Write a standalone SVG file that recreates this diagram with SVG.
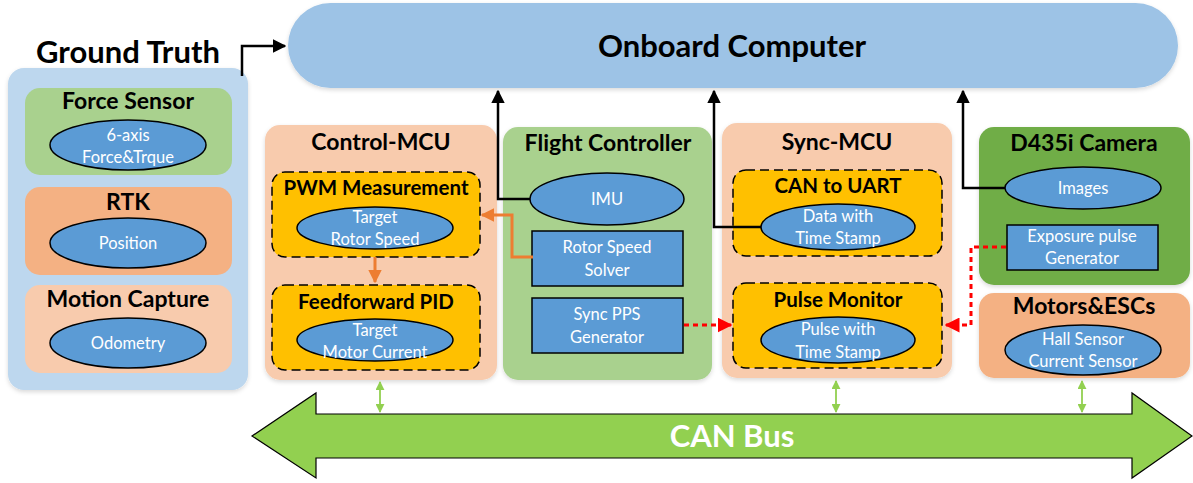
<svg xmlns="http://www.w3.org/2000/svg" width="1193" height="483" viewBox="0 0 1193 483">
<defs>
<style>
.t{font-family:Lato,"Open Sans","Liberation Sans",sans-serif;font-weight:bold;fill:#000;text-anchor:middle}
.h1{font-size:31px}
.h2{font-size:23px}
.h3{font-size:20.5px}
.e{font-family:Lato,"Open Sans","Liberation Sans",sans-serif;font-size:16.5px;fill:#fff;text-anchor:middle}
.ell{fill:#5B9BD5;stroke:#000;stroke-width:1.5}
.rb{fill:#5B9BD5;stroke:#000;stroke-width:1.5}
.dash{fill:#FFC000;stroke:#000;stroke-width:1.5;stroke-dasharray:9 5}
.blk{fill:none;stroke:#000;stroke-width:2.5}
.org{fill:none;stroke:#ED7D31;stroke-width:3}
.red{fill:none;stroke:#FF0000;stroke-width:3;stroke-dasharray:5 4}
.grn{fill:none;stroke:#92D050;stroke-width:1.8}
</style>
<marker id="ab" viewBox="0 0 10 10" refX="9" refY="5" markerWidth="5.5" markerHeight="5.5" orient="auto-start-reverse" markerUnits="strokeWidth"><path d="M0,0 L10,5 L0,10 z" fill="#000"/></marker>
<marker id="ao" viewBox="0 0 10 10" refX="9" refY="5" markerWidth="4.5" markerHeight="4.5" orient="auto" markerUnits="strokeWidth"><path d="M0,0 L10,5 L0,10 z" fill="#ED7D31"/></marker>
<marker id="ar" viewBox="0 0 10 10" refX="9" refY="5" markerWidth="5" markerHeight="5" orient="auto" markerUnits="strokeWidth"><path d="M0,0 L10,5 L0,10 z" fill="#FF0000"/></marker>
<marker id="ag" viewBox="0 0 10 10" refX="9" refY="5" markerWidth="5" markerHeight="5" orient="auto-start-reverse" markerUnits="strokeWidth"><path d="M0,0 L10,5 L0,10 z" fill="#92D050"/></marker>
<filter id="sh" x="-5%" y="-5%" width="110%" height="115%"><feDropShadow dx="0" dy="2" stdDeviation="2" flood-color="#000" flood-opacity="0.15"/></filter>
</defs>
<rect width="1193" height="483" fill="#fff"/>

<g id="ground-truth">
<text class="t h1" x="128" y="63">Ground Truth</text>
<rect x="8" y="68" width="240" height="322" rx="16" fill="#BDD7EE" filter="url(#sh)"/>
</g>
<g id="force-sensor">
<rect x="25" y="88" width="207" height="87" rx="15" fill="#A9D18E"/>
<text class="t h2" x="128" y="109">Force Sensor</text>
<ellipse class="ell" cx="128" cy="145" rx="78" ry="25"/>
<text class="e" x="128" y="141">6-axis</text>
<text class="e" x="128" y="163">Force&amp;Trque</text>
</g>
<g id="rtk">
<rect x="25" y="187" width="207" height="88" rx="15" fill="#F4B183"/>
<text class="t h2" x="128" y="210">RTK</text>
<ellipse class="ell" cx="128" cy="243" rx="78" ry="25"/>
<text class="e" x="128" y="249">Position</text>
</g>
<g id="motion-capture">
<rect x="25" y="285" width="207" height="88" rx="15" fill="#F8CBAD"/>
<text class="t h2" x="128" y="307">Motion Capture</text>
<ellipse class="ell" cx="128" cy="343" rx="78" ry="25"/>
<text class="e" x="128" y="349">Odometry</text>
</g>

<g id="onboard-computer">
<rect x="288" y="3" width="890" height="85" rx="42.5" fill="#9DC3E6" filter="url(#sh)"/>
<text class="t h1" x="732" y="57">Onboard Computer</text>
</g>

<g id="control-mcu">
<rect x="265" y="125" width="232" height="255" rx="15" fill="#F8CBAD" filter="url(#sh)"/>
<text class="t h2" x="381" y="150">Control-MCU</text>
</g>
<g id="pwm-measurement">
<rect class="dash" x="272" y="172" width="208" height="85" rx="13"/>
<text class="t h3" x="376" y="195">PWM Measurement</text>
<ellipse class="ell" cx="375" cy="228" rx="78" ry="21"/>
<text class="e" x="375" y="223">Target</text>
<text class="e" x="375" y="245">Rotor Speed</text>
</g>
<g id="feedforward-pid">
<rect class="dash" x="272" y="285" width="208" height="85" rx="13"/>
<text class="t h3" x="376" y="309">Feedforward PID</text>
<ellipse class="ell" cx="375" cy="340" rx="78" ry="21"/>
<text class="e" x="375" y="336">Target</text>
<text class="e" x="375" y="358">Motor Current</text>
</g>

<g id="flight-controller">
<rect x="503" y="127" width="209" height="253" rx="15" fill="#A9D18E" filter="url(#sh)"/>
<text class="t h2" x="608" y="151">Flight Controller</text>
</g>
<g id="imu">
<ellipse class="ell" cx="607" cy="199" rx="77" ry="26"/>
<text class="e" x="607" y="205">IMU</text>
</g>
<g id="rotor-speed-solver">
<rect class="rb" x="532" y="231" width="151" height="55"/>
<text class="e" x="607" y="253">Rotor Speed</text>
<text class="e" x="607" y="276">Solver</text>
</g>
<g id="sync-pps-generator">
<rect class="rb" x="532" y="298" width="151" height="55"/>
<text class="e" x="607" y="320">Sync PPS</text>
<text class="e" x="607" y="343">Generator</text>
</g>

<g id="sync-mcu">
<rect x="722" y="123" width="230" height="255" rx="15" fill="#F8CBAD" filter="url(#sh)"/>
<text class="t h2" x="837" y="150">Sync-MCU</text>
</g>
<g id="can-to-uart">
<rect class="dash" x="733" y="170" width="209" height="86" rx="13"/>
<text class="t h3" x="838" y="193">CAN to UART</text>
<ellipse class="ell" cx="838" cy="227" rx="77" ry="23"/>
<text class="e" x="838" y="222">Data with</text>
<text class="e" x="838" y="244">Time Stamp</text>
</g>
<g id="pulse-monitor">
<rect class="dash" x="733" y="283" width="209" height="85" rx="13"/>
<text class="t h3" x="838" y="307">Pulse Monitor</text>
<ellipse class="ell" cx="838" cy="340" rx="77" ry="23"/>
<text class="e" x="838" y="335">Pulse with</text>
<text class="e" x="838" y="358">Time Stamp</text>
</g>

<g id="d435i-camera">
<rect x="979" y="127" width="211" height="158" rx="15" fill="#70AD47" filter="url(#sh)"/>
<text class="t h2" x="1084" y="151">D435i Camera</text>
</g>
<g id="images">
<ellipse class="ell" cx="1083" cy="188" rx="78" ry="21"/>
<text class="e" x="1083" y="194">Images</text>
</g>
<g id="exposure-pulse-generator">
<rect class="rb" x="1007" y="225" width="151" height="45"/>
<text class="e" x="1082" y="242">Exposure pulse</text>
<text class="e" x="1082" y="264">Generator</text>
</g>

<g id="motors-escs">
<rect x="979" y="293" width="211" height="85" rx="15" fill="#F4B183" filter="url(#sh)"/>
<text class="t h2" x="1084" y="314">Motors&amp;ESCs</text>
<ellipse class="ell" cx="1083" cy="350" rx="78" ry="25"/>
<text class="e" x="1083" y="345">Hall Sensor</text>
<text class="e" x="1083" y="367">Current Sensor</text>
</g>

<g id="can-bus">
<path d="M252,436 L316,393 L316,414 L1132,414 L1132,393 L1192,436 L1132,478 L1132,458 L316,458 L316,478 Z" fill="#92D050" stroke="#000" stroke-width="1.2"/>
<text x="732" y="447" style="font-family:Lato,'Open Sans','Liberation Sans',sans-serif;font-weight:bold;font-size:31px;fill:#fff;text-anchor:middle">CAN Bus</text>
</g>

<g id="connectors">
<path class="blk" d="M242,76 V46 H285" marker-end="url(#ab)"/>
<path class="blk" d="M530,199 H498 V91" marker-end="url(#ab)"/>
<path class="blk" d="M761,227 H714 V91" marker-end="url(#ab)"/>
<path class="blk" d="M1005,188 H963 V91" marker-end="url(#ab)"/>
<path class="org" d="M533,257 H512 V215 H482" marker-end="url(#ao)"/>
<path class="org" d="M375,257 V282" marker-end="url(#ao)"/>
<path class="red" d="M684,325 H731" marker-end="url(#ar)"/>
<path class="red" d="M1006,247 H971 V325 H946" marker-end="url(#ar)"/>
<path class="grn" d="M380,382 V412" marker-start="url(#ag)" marker-end="url(#ag)"/>
<path class="grn" d="M836,381 V412" marker-start="url(#ag)" marker-end="url(#ag)"/>
<path class="grn" d="M1082,381 V412" marker-start="url(#ag)" marker-end="url(#ag)"/>
</g>
</svg>
